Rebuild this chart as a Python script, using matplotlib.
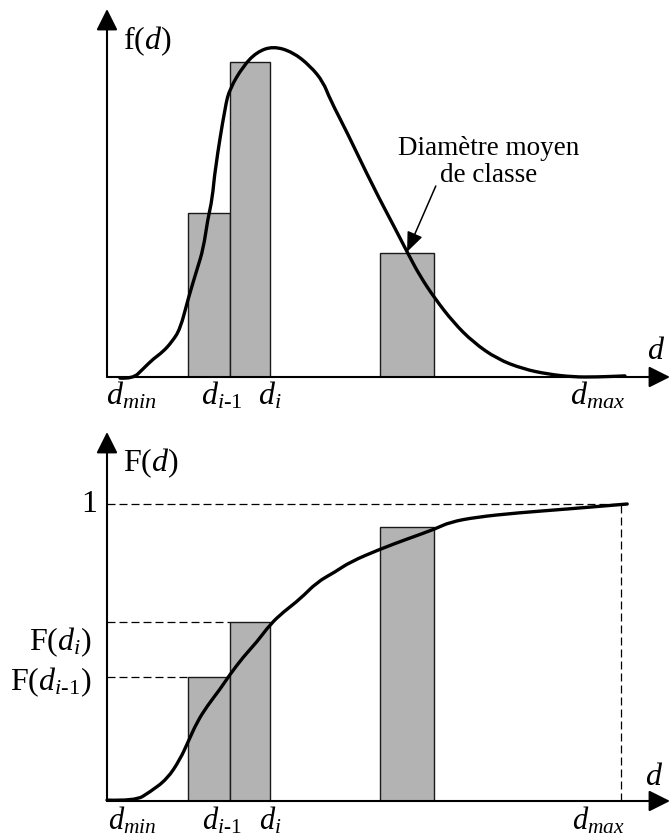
import matplotlib
matplotlib.use("Agg")
import matplotlib.pyplot as plt
from matplotlib.patches import ArrowStyle, PathPatch
from matplotlib.path import Path

plt.rcParams["font.family"] = ["Liberation Serif", "DejaVu Serif"]
plt.rcParams["mathtext.fontset"] = "custom"
plt.rcParams["mathtext.rm"] = "Liberation Serif"
plt.rcParams["mathtext.it"] = "Liberation Serif:italic"
plt.rcParams["mathtext.bf"] = "Liberation Serif:bold"

# ---- data (arbitrary units) ----
# class boundaries of the three drawn classes
class_left = [1.44, 2.18, 4.85]
class_right = [2.18, 2.90, 5.81]

# density f(d): bar heights and the smooth curve
f_bars = [0.446, 0.856, 0.336]
f_curve_d = [0.23, 0.46, 0.64, 0.82, 0.99, 1.15, 1.30, 1.44, 1.60, 1.71, 1.79,
             1.87, 1.92, 2.10, 2.18, 2.42, 2.66, 2.95, 3.30, 3.61, 3.84, 3.96,
             4.26, 4.72, 5.15, 5.35, 5.56, 5.83, 6.15, 6.50, 6.93, 7.39, 7.82,
             8.28, 8.70, 9.20]
f_curve = [-0.003, -0.005, 0.022, 0.049, 0.068, 0.095, 0.130, 0.212, 0.293,
           0.348, 0.429, 0.484, 0.565, 0.736, 0.783, 0.845, 0.883, 0.899,
           0.883, 0.845, 0.802, 0.755, 0.666, 0.519, 0.394, 0.334, 0.274,
           0.212, 0.149, 0.095, 0.049, 0.022, 0.008, 0.0, 0.0, 0.003]

# cumulative F(d): bar heights and curve
F_bars = [0.418, 0.603, 0.923]
F_curve_d = [0.0, 0.50, 0.76, 1.07, 1.30, 1.44, 1.60, 1.78, 2.01, 2.18, 2.42,
             2.66, 2.90, 3.13, 3.43, 3.73, 4.05, 4.32, 4.85, 5.33, 5.83, 6.09,
             6.57, 7.28, 8.17, 9.24]
F_curve = [0.003, 0.0, 0.030, 0.074, 0.141, 0.199, 0.266, 0.320, 0.377, 0.425,
           0.485, 0.535, 0.595, 0.636, 0.680, 0.737, 0.771, 0.805, 0.848,
           0.882, 0.916, 0.939, 0.956, 0.970, 0.983, 1.0]

d_min, d_prev, d_i, d_max = 0.44, 2.04, 2.90, 8.72
d_max_line = 9.13
tick_text = [r"$d_{min}$", r"$d_{i\text{-1}}$", r"$d_{i}$", r"$d_{max}$"]

GREY = "#b3b3b3"
LBL = 23
fig = plt.figure(figsize=(6.7, 8.37), dpi=100)

ax1 = fig.add_axes([107 / 670, 459 / 837, 563 / 670, 368 / 837])
ax2 = fig.add_axes([107 / 670, 35 / 837, 563 / 670, 369 / 837])
ax1.set_xlim(0, 10)
ax1.set_ylim(0, 1)
ax2.set_xlim(0, 10)
ax2.set_ylim(0, 369 / 297)

axis_arrow = ArrowStyle("-|>", head_length=1.0, head_width=0.5)
for ax in (ax1, ax2):
    ax.axis("off")
    top = ax.get_ylim()[1]
    for tip in [(10, 0), (0, top)]:
        ax.annotate("", xy=tip, xytext=(0, 0), annotation_clip=False,
                    arrowprops=dict(arrowstyle=axis_arrow, color="black",
                                    lw=1.5, mutation_scale=13,
                                    shrinkA=0, shrinkB=0))


def draw_bars(ax, heights):
    widths = [r - l for l, r in zip(class_left, class_right)]
    ax.bar(class_left, heights, width=widths, align="edge", color=GREY,
           edgecolor="#1a1a1a", linewidth=1.0, zorder=2)


def draw_smooth(ax, xs, ys):
    # quadratic bezier through the midpoints, read points act as controls
    pts = list(zip(xs, ys))
    verts = [pts[0]]
    codes = [Path.MOVETO]
    for k in range(1, len(pts) - 1):
        mid = ((pts[k][0] + pts[k + 1][0]) / 2, (pts[k][1] + pts[k + 1][1]) / 2)
        verts += [pts[k], mid]
        codes += [Path.CURVE3, Path.CURVE3]
    verts.append(pts[-1])
    codes.append(Path.LINETO)
    ax.add_patch(PathPatch(Path(verts, codes), fill=False, edgecolor="black",
                           lw=2.4, zorder=3, clip_on=False,
                           capstyle="round", joinstyle="round"))


# ---- top: density ----
draw_bars(ax1, f_bars)
draw_smooth(ax1, f_curve_d, f_curve)
ax1.text(0.28, 0.916, r"f$(d)$", fontsize=LBL, ha="left", va="center")
ax1.text(9.75, 0.071, r"$d$", fontsize=LBL, ha="center", va="center")
ax1.text(6.77, 0.587, "Diamètre moyen\nde classe", fontsize=19.5,
         ha="center", va="center", multialignment="center", linespacing=1.15)
ax1.annotate("", xy=(5.33, 0.340), xytext=(5.84, 0.519),
             arrowprops=dict(arrowstyle=ArrowStyle("-|>", head_length=1.1,
                                                   head_width=0.45),
                             color="black", lw=1.1, mutation_scale=11,
                             shrinkA=0, shrinkB=0), zorder=4)
for x, s in zip([d_min, d_prev, d_i, d_max], tick_text):
    ax1.text(x, -0.005, s, fontsize=LBL, ha="center", va="top")

# ---- bottom: cumulative ----
dash = dict(color="black", lw=0.9, dashes=(6.4, 3.2), zorder=1)
ax2.plot([0, 9.24], [1, 1], **dash)
ax2.plot([d_max_line, d_max_line], [0, 1], **dash)
ax2.plot([0, class_left[1]], [F_bars[1], F_bars[1]], **dash)
ax2.plot([0, class_left[0]], [F_bars[0], F_bars[0]], **dash)
draw_bars(ax2, F_bars)
draw_smooth(ax2, F_curve_d, F_curve)
ax2.text(0.28, 1.141, r"F$(d)$", fontsize=LBL, ha="left", va="center")
ax2.text(9.72, 0.084, r"$d$", fontsize=LBL, ha="center", va="center")
ax2.text(-0.18, 1.0, "1", fontsize=LBL, ha="right", va="center")
ax2.text(-0.27, 0.537, r"F$(d_{i})$", fontsize=LBL, ha="right", va="center")
ax2.text(-0.27, 0.404, r"F$(d_{i\text{-1}})$", fontsize=LBL, ha="right",
         va="center")
for x, s in zip([d_min, d_prev, d_i, d_max], tick_text):
    ax2.text(x, -0.010, s, fontsize=22, ha="center", va="top")

fig.savefig("out.png", dpi=100)
